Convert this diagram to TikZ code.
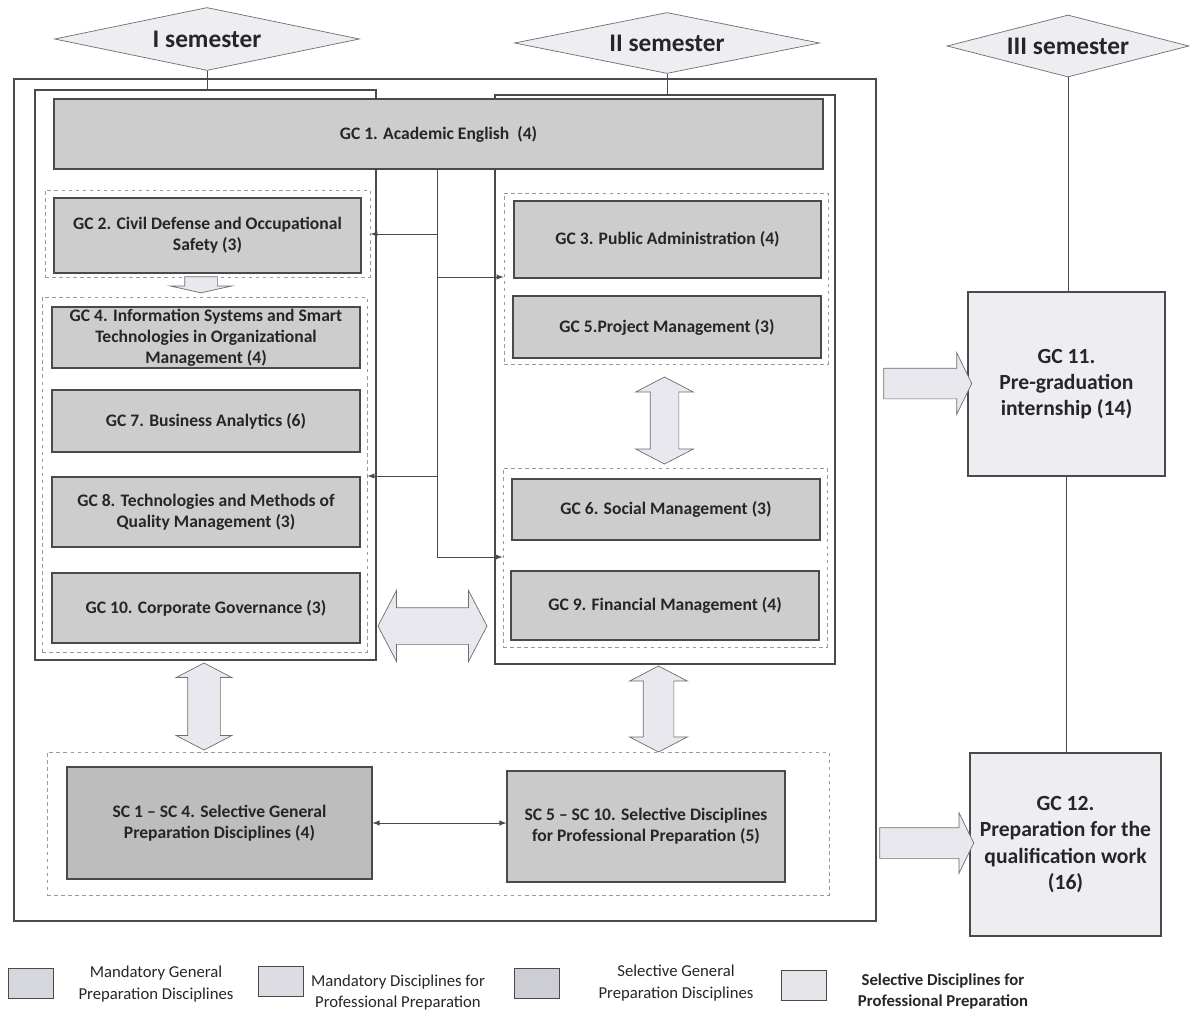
\documentclass[tikz,border=0pt]{standalone}
\usepackage{fontspec}
\setmainfont{Carlito}
\usetikzlibrary{shapes.geometric,shapes.arrows}
\definecolor{boxgray}{HTML}{CDCDCD}
\definecolor{scdark}{HTML}{BDBDBD}
\definecolor{sclight}{HTML}{CACACA}
\definecolor{pale}{HTML}{EDEDF2}
\definecolor{arrowfill}{HTML}{E8E8EE}
\definecolor{linegray}{HTML}{4A4A4A}
\definecolor{ink}{HTML}{262626}

\begin{document}
\begin{tikzpicture}
      [
      semframe/.style={rectangle,draw=linegray,line width=0.6pt,inner sep=0pt},
      grp/.style={rectangle,draw=gray!80,line width=0.5pt,dash pattern=on 2pt off 2pt,inner sep=0pt},
      course/.style={rectangle,draw=linegray,line width=0.6pt,fill=boxgray,inner sep=0pt,align=center,text=ink,font=\bfseries\fontsize{10}{12}\selectfont},
      exitbox/.style={course,fill=pale,font=\bfseries\fontsize{12.3}{15}\selectfont},
      sem/.style={diamond,draw=linegray!80,fill=pale,inner sep=0pt,text=ink,font=\bfseries\fontsize{14.4}{16}\selectfont},
      blk/.style={single arrow,draw=linegray!80,fill=arrowfill,inner xsep=0pt,single arrow tip angle=128},
      dblk/.style={double arrow,draw=linegray!80,fill=arrowfill,inner xsep=0pt,double arrow tip angle=125},
      swatch/.style={rectangle,draw=linegray,inner sep=0pt,minimum width=0.9cm,minimum height=0.6cm},
      legtext/.style={align=center,text=ink,font=\fontsize{9.5}{12}\selectfont}
      ]
      \useasboundingbox (0,0) rectangle (23.8,-20.2);
      % frames of the first two semesters
      \node (outer) at (8.9,-10) [semframe,minimum width=17.24cm,minimum height=16.84cm] {};
      \node (col1) at (4.11,-7.5) [semframe,minimum width=6.82cm,minimum height=11.4cm] {};
      \node (col2) at (13.3,-7.59) [semframe,minimum width=6.8cm,minimum height=11.38cm] {};
      % semesters
      \node (sem1) at (4.14,-0.78) [sem,aspect=4.84,minimum width=6.1cm,minimum height=1.26cm] {I semester};
      \node (sem2) at (13.34,-0.86) [sem,aspect=5,minimum width=6.1cm,minimum height=1.22cm] {II semester};
      \node (sem3) at (21.36,-0.92) [sem,aspect=3.9,minimum width=4.84cm,minimum height=1.24cm] {III semester};
      \draw [linegray] (sem1.south) -- (sem1.south |- col1.north);
      \draw [linegray] (sem2.south) -- (sem2.south |- col2.north);
      % groups
      \node (grpA) at (4.15,-4.67) [grp,minimum width=6.5cm,minimum height=1.74cm] {};
      \node (grpB) at (4.09,-9.49) [grp,minimum width=6.5cm,minimum height=7.1cm] {};
      \node (grpC) at (13.32,-5.57) [grp,minimum width=6.48cm,minimum height=3.42cm] {};
      \node (grpD) at (13.3,-11.15) [grp,minimum width=6.48cm,minimum height=3.58cm] {};
      \node (grpE) at (8.76,-16.47) [grp,minimum width=15.64cm,minimum height=2.86cm] {};
      % courses
      \node (gc1) at (8.77,-2.68) [course,minimum width=15.38cm,minimum height=1.4cm] {GC 1. Academic English~ (4)};
      \node (gc2) at (4.15,-4.71) [course,minimum width=6.14cm,minimum height=1.5cm] {GC 2. Civil Defense and Occupational\\Safety (3)};
      \node (gc4) at (4.12,-6.75) [course,minimum width=6.16cm,minimum height=1.22cm] {GC 4. Information Systems and Smart\\Technologies in Organizational\\Management (4)};
      \node (gc7) at (4.12,-8.42) [course,minimum width=6.16cm,minimum height=1.24cm] {GC 7. Business Analytics (6)};
      \node (gc8) at (4.12,-10.24) [course,minimum width=6.16cm,minimum height=1.4cm] {GC 8. Technologies and Methods of\\Quality Management (3)};
      \node (gc10) at (4.12,-12.16) [course,minimum width=6.16cm,minimum height=1.4cm] {GC 10. Corporate Governance (3)};
      \node (gc3) at (13.35,-4.79) [course,minimum width=6.14cm,minimum height=1.54cm] {GC 3. Public Administration (4)};
      \node (gc5) at (13.34,-6.54) [course,minimum width=6.16cm,minimum height=1.24cm] {GC 5.Project Management (3)};
      \node (gc6) at (13.32,-10.19) [course,minimum width=6.16cm,minimum height=1.22cm] {GC 6. Social Management (3)};
      \node (gc9) at (13.3,-12.11) [course,minimum width=6.16cm,minimum height=1.38cm] {GC 9. Financial Management (4)};
      \node (sc1) at (4.39,-16.46) [course,fill=scdark,minimum width=6.1cm,minimum height=2.24cm] {SC 1 -- SC 4. Selective General\\Preparation Disciplines (4)};
      \node (sc5) at (12.92,-16.53) [course,fill=sclight,minimum width=5.56cm,minimum height=2.22cm] {SC 5 -- SC 10. Selective Disciplines\\for Professional Preparation (5)};
      \node (gc11) at (21.33,-7.68) [exitbox,minimum width=3.94cm,minimum height=3.68cm] {GC 11.\\Pre-graduation\\internship (14)};
      \node (gc12) at (21.31,-16.89) [exitbox,minimum width=3.82cm,minimum height=3.66cm] {GC 12.\\Preparation for the\\qualification work\\(16)};
      \draw [linegray] (sem3.south) -- (sem3.south |- gc11.north);
      \draw [linegray] (gc11.south) -- (gc11.south |- gc12.north);
      % links from GC 1
      \coordinate (bt) at (8.74,-3.38);
      \coordinate (j1) at (8.74,-4.68);
      \coordinate (j2) at (8.74,-5.54);
      \coordinate (j3) at (8.74,-9.52);
      \coordinate (j4) at (8.74,-11.14);
      \draw [linegray] (bt) -- (j4);
      \draw [-latex,linegray] (j1) -- (j1 -| grpA.east);
      \draw [-latex,linegray] (j2) -- (j2 -| grpC.west);
      \draw [-latex,linegray] (j3) -- (j3 -| grpB.east);
      \draw [-latex,linegray] (j4) -- (j4 -| grpD.west);
      \draw [latex-latex,linegray] (sc1.east) -- (sc1.east -| sc5.west);
      % block arrows
      \node (arrA) at (4.02,-5.66) [blk,rotate=-90,single arrow tip angle=155,minimum height=0.32cm,inner ysep=0.32cm,single arrow head extend=0.29cm] {};
      \node (hdbl) at (8.65,-12.52) [dblk,minimum height=2.18cm,inner ysep=0.36cm,double arrow head extend=0.34cm] {};
      \node (vdblC) at (13.29,-8.41) [dblk,rotate=90,minimum height=1.74cm,inner ysep=0.28cm,double arrow head extend=0.29cm] {};
      \node (vdbl1) at (4.08,-14.13) [dblk,rotate=90,minimum height=1.74cm,inner ysep=0.32cm,double arrow head extend=0.23cm] {};
      \node (vdbl2) at (13.17,-14.18) [dblk,rotate=90,minimum height=1.72cm,inner ysep=0.3cm,double arrow head extend=0.27cm] {};
      \node (arr11) at (18.48,-7.67) [blk,minimum height=1.76cm,inner ysep=0.3cm,single arrow head extend=0.31cm] {};
      \node (arr12) at (18.46,-16.86) [blk,minimum height=1.88cm,inner ysep=0.3cm,single arrow head extend=0.3cm] {};
      % legend
      \node (sw1) at (0.62,-19.66) [swatch,fill={rgb,255:red,214;green,214;blue,221}] {};
      \node (sw2) at (5.61,-19.62) [swatch,fill={rgb,255:red,220;green,220;blue,226}] {};
      \node (sw3) at (10.73,-19.67) [swatch,fill={rgb,255:red,205;green,205;blue,212}] {};
      \node (sw4) at (16.08,-19.7) [swatch,fill={rgb,255:red,228;green,228;blue,233}] {};
      \node (lg1) at (3.12,-19.68) [legtext] {Mandatory General\\Preparation Disciplines};
      \node (lg2) at (7.96,-19.85) [legtext] {Mandatory Disciplines for\\Professional Preparation};
      \node (lg3) at (13.52,-19.66) [legtext] {Selective General\\Preparation Disciplines};
      \node (lg4) at (18.86,-19.83) [legtext,font=\bfseries\fontsize{9.5}{12}\selectfont] {Selective Disciplines for\\Professional Preparation};
    \end{tikzpicture}
\end{document}
